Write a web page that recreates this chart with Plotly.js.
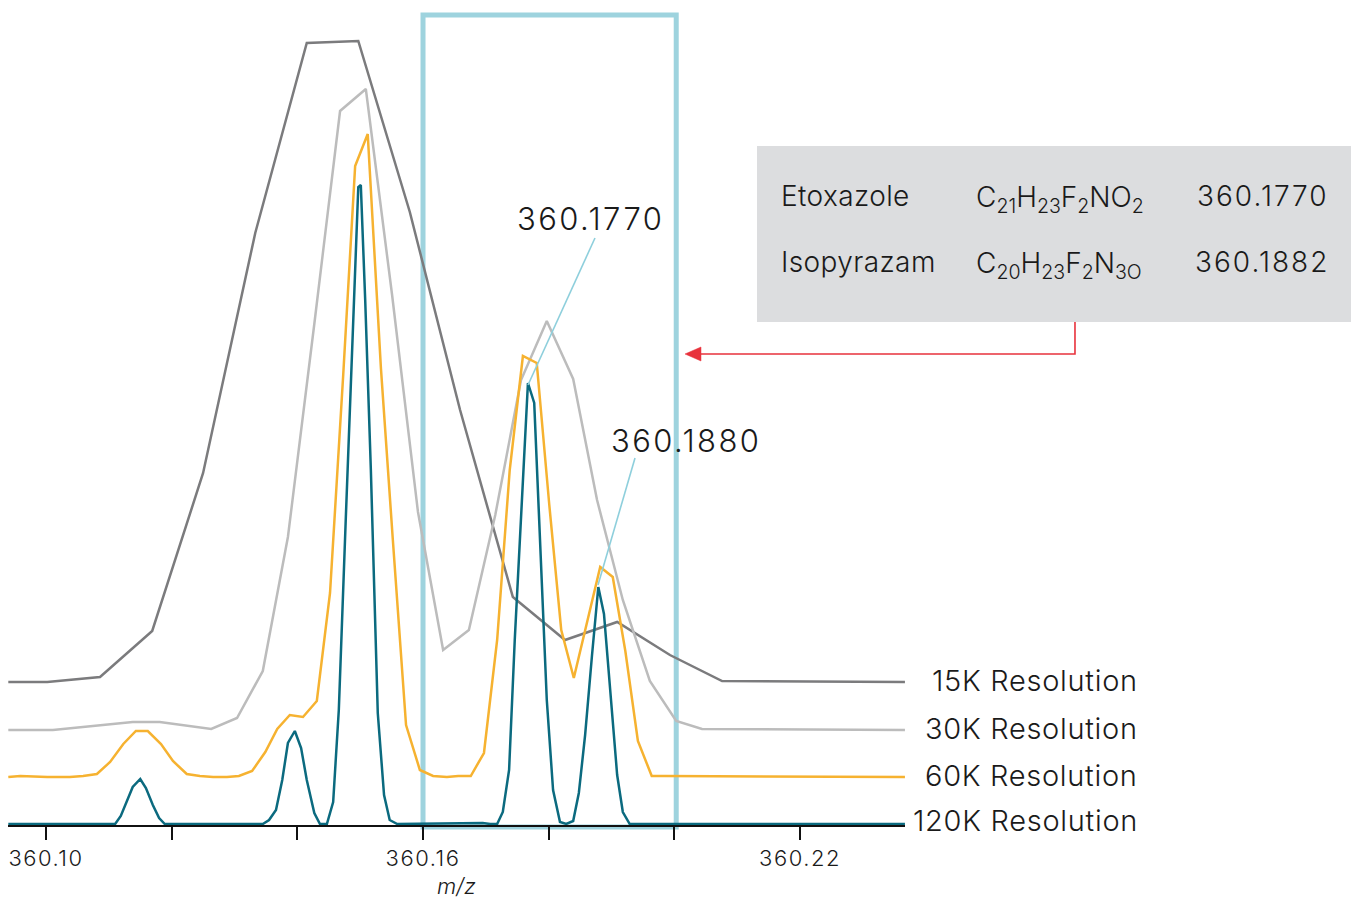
<!DOCTYPE html>
<html>
<head>
<meta charset="utf-8">
<script src="https://cdn.plot.ly/plotly-3.0.1.min.js"></script>
<style>html,body{margin:0;padding:0;background:#fff;}#chart{width:1351px;height:899px;}</style>
</head>
<body>
<div id="chart"></div>
<script>
// ---- data (m/z vs intensity, arbitrary units; each resolution trace is offset upward) ----
const seriesNames = ['15K Resolution', '30K Resolution', '60K Resolution', '120K Resolution'];

const mz15 = [360.0940, 360.1002, 360.1086, 360.1169, 360.1250, 360.1333, 360.1415, 360.1497, 360.1579, 360.1659, 360.1743, 360.1826, 360.1909, 360.1993, 360.2076, 360.2367];
const int15 = [144, 144, 149, 195, 353, 593, 783, 785, 614, 416, 229, 186, 204, 171, 145, 144];

const mz30 = [360.0940, 360.1011, 360.1138, 360.1181, 360.1263, 360.1304, 360.1345, 360.1385, 360.1427, 360.1468, 360.1509, 360.1551, 360.1592, 360.1632, 360.1673, 360.1715, 360.1756, 360.1797, 360.1839, 360.1877, 360.1918, 360.1961, 360.2003, 360.2044, 360.2367];
const int30 = [96, 96, 104, 104, 97, 108, 155, 289, 502, 715, 737, 530, 314, 176, 196, 311, 446, 505, 447, 326, 226, 145, 105, 97, 96];

const mz60 = [360.0940, 360.0959, 360.1002, 360.1038, 360.1059, 360.1081, 360.1102, 360.1123, 360.1143, 360.1162, 360.1183, 360.1202, 360.1224, 360.1245, 360.1266, 360.1288, 360.1307, 360.1328, 360.1349, 360.1368, 360.1388, 360.1409, 360.1431, 360.1452, 360.1473, 360.1492, 360.1512, 360.1533, 360.1552, 360.1573, 360.1595, 360.1616, 360.1638, 360.1656, 360.1676, 360.1697, 360.1718, 360.1738, 360.1759, 360.1781, 360.1801, 360.1820, 360.1840, 360.1861, 360.1882, 360.1902, 360.1922, 360.1942, 360.1964, 360.1985, 360.2367];
const int60 = [49, 50, 49, 49, 50, 52, 64, 82, 95, 95, 82, 65, 52, 50, 49, 49, 50, 55, 74, 97, 111, 109, 125, 233, 451, 660, 692, 458, 286, 101, 56, 50, 49, 50, 50, 73, 186, 356, 470, 463, 321, 196, 148, 204, 259, 249, 175, 85, 50, 50, 49];

const mz120 = [360.0940, 360.1110, 360.1119, 360.1129, 360.1138, 360.1150, 360.1159, 360.1170, 360.1180, 360.1189, 360.1345, 360.1355, 360.1366, 360.1376, 360.1385, 360.1396, 360.1406, 360.1415, 360.1427, 360.1436, 360.1447, 360.1457, 360.1466, 360.1477, 360.1487, 360.1497, 360.1501, 360.1508, 360.1517, 360.1528, 360.1538, 360.1547, 360.1559, 360.1695, 360.1707, 360.1718, 360.1727, 360.1737, 360.1746, 360.1758, 360.1767, 360.1777, 360.1788, 360.1797, 360.1807, 360.1818, 360.1828, 360.1839, 360.1848, 360.1858, 360.1869, 360.1879, 360.1888, 360.1899, 360.1909, 360.1918, 360.1929, 360.2367];
const int120 = [2, 2, 10, 26, 39, 47, 38, 21, 8, 2, 2, 6, 16, 46, 83, 95, 78, 46, 13, 2, 2, 24, 116, 306, 466, 639, 641, 526, 356, 113, 31, 6, 2, 3, 2, 2, 14, 56, 186, 326, 443, 423, 263, 126, 36, 4, 2, 5, 33, 91, 171, 239, 212, 126, 51, 14, 2, 2];

const tickVals = [360.10, 360.16, 360.22];
const tickText = ['360.10', '360.16', '360.22'];
const minorTickStep = 0.02;

const peakLabels = ['360.1770', '360.1880'];
const compounds = ['Etoxazole', 'Isopyrazam'];
const formulas = ['C<sub>21</sub>H<sub>23</sub>F<sub>2</sub>NO<sub>2</sub>', 'C<sub>20</sub>H<sub>23</sub>F<sub>2</sub>N<sub>3O</sub>'];
const exactMasses = ['360.1770', '360.1882'];
const zoomWindow = [360.16, 360.2003];

// ---- styling ----
const colors = ['#7b7b7d', '#bcbcbc', '#f6b230', '#0b6a7f'];
const FONT = 'Inter, "Liberation Sans", Arial, sans-serif';
const TXT = '#1a1a1a';
const CYAN = '#9ed3de';
const RED = '#e8323c';
const sp = (t, px) => '<span style="letter-spacing:' + px + 'px">' + t + '</span>';

const xs = [mz15, mz30, mz60, mz120];
const ys = [int15, int30, int60, int120];
const traces = xs.map((x, i) => ({
  type: 'scatter', mode: 'lines', x: x, y: ys[i], name: seriesNames[i],
  line: {color: colors[i], width: 2.5}, hoverinfo: 'x+y+name'
}));

// label y at each trace's right-end baseline
const labelAnnots = seriesNames.map((n, i) => ({
  xref: 'paper', yref: 'y', x: 1.2620, y: ys[i][ys[i].length - 1], yshift: (i === 3 ? 4 : 2),
  xanchor: 'right', yanchor: 'middle', text: sp(n, 0.7), showarrow: false,
  font: {family: FONT, size: 29, color: TXT, weight: 300}
}));

const rowY = [0.7734, 0.6931];
const tableAnnots = [];
compounds.forEach((c, i) => {
  tableAnnots.push({xref: 'paper', yref: 'paper', x: 0.8595, y: rowY[i], xanchor: 'left', yanchor: 'middle',
    text: sp(c, 0.4), showarrow: false, font: {family: FONT, size: 28, color: TXT, weight: 300}});
  tableAnnots.push({xref: 'paper', yref: 'paper', x: 1.0769, y: rowY[i] - 0.004, xanchor: 'left', yanchor: 'middle',
    text: formulas[i], showarrow: false, font: {family: FONT, size: 28, color: TXT, weight: 300}});
  tableAnnots.push({xref: 'paper', yref: 'paper', x: 1.4749, y: rowY[i], xanchor: 'right', yanchor: 'middle',
    text: sp(exactMasses[i], 2), showarrow: false, font: {family: FONT, size: 28, color: TXT, weight: 300}});
});

const peakAnnots = [
  {xref: 'x', yref: 'y', x: 360.18658, y: 608, text: sp(peakLabels[0], 2.4), showarrow: false,
   xanchor: 'center', yanchor: 'middle', font: {family: FONT, size: 31, color: TXT, weight: 300}},
  {xref: 'x', yref: 'y', x: 360.20186, y: 386, text: sp(peakLabels[1], 2.4), showarrow: false,
   xanchor: 'center', yanchor: 'middle', font: {family: FONT, size: 31, color: TXT, weight: 300}}
];

const shapes = [
  // highlighted m/z window
  {type: 'rect', xref: 'x', yref: 'y', x0: zoomWindow[0], x1: zoomWindow[1], y0: -1, y1: 811,
   line: {color: CYAN, width: 5}, fillcolor: 'rgba(0,0,0,0)', layer: 'below'},
  // table background
  {type: 'rect', xref: 'paper', yref: 'paper', x0: 0.835, x1: 1.4972, y0: 0.620, y1: 0.8343,
   line: {width: 0}, fillcolor: '#dcdddf', layer: 'below'},
  // red connector from table to the highlighted window
  {type: 'path', xref: 'paper', yref: 'paper', path: 'M 1.1895 0.620 L 1.1895 0.581 L 0.7700 0.581',
   line: {color: RED, width: 1.6}, fillcolor: 'rgba(0,0,0,0)'},
  {type: 'path', xref: 'paper', yref: 'paper', path: 'M 0.75474 0.58100 L 0.77258 0.58952 L 0.77258 0.57247 Z',
   line: {color: RED, width: 0.5}, fillcolor: RED},
  // leader lines to peaks
  {type: 'line', xref: 'x', yref: 'y', x0: 360.18737, y0: 588, x1: 360.17671, y1: 441,
   line: {color: '#8ecfdc', width: 1.6}, layer: 'above'},
  {type: 'line', xref: 'x', yref: 'y', x0: 360.19374, y0: 368, x1: 360.18785, y1: 241,
   line: {color: '#8ecfdc', width: 1.6}, layer: 'above'}
];

const layout = {
  width: 1351, height: 899,
  margin: {l: 8, r: 446, t: 10, b: 68, pad: 0},
  paper_bgcolor: '#ffffff', plot_bgcolor: '#ffffff',
  showlegend: false,
  font: {family: FONT, color: TXT},
  xaxis: {
    range: [360.09395, 360.23671], anchor: 'free', position: 5 / 821,
    showgrid: false, zeroline: false, showline: true, linecolor: '#111', linewidth: 2,
    ticks: 'outside', ticklen: 13, tickwidth: 1.8, tickcolor: '#111',
    tickmode: 'array', tickvals: tickVals, ticktext: tickText.map(t => sp(t, 1.5)),
    minor: {dtick: minorTickStep, tick0: 360.10, ticks: 'outside', ticklen: 13, tickwidth: 1.8, tickcolor: '#111', showgrid: false},
    tickfont: {family: FONT, size: 22, color: TXT, weight: 300},
    title: {text: '<i>m/z</i>', font: {family: FONT, size: 22, color: TXT, weight: 300}, standoff: 8},
    automargin: false, fixedrange: true
  },
  yaxis: {range: [-5, 816], visible: false, showgrid: false, zeroline: false, fixedrange: true, automargin: false},
  shapes: shapes,
  annotations: [...labelAnnots, ...tableAnnots, ...peakAnnots]
};

Plotly.newPlot('chart', traces, layout, {displayModeBar: false, staticPlot: true});
</script>
</body>
</html>
